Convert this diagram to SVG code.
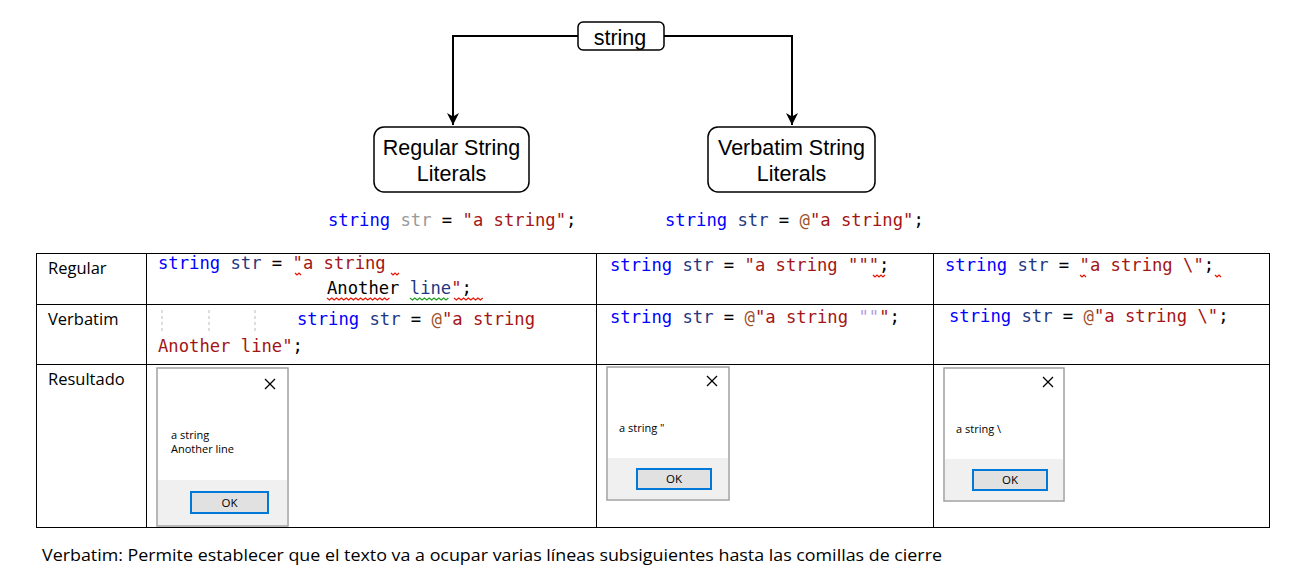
<svg xmlns="http://www.w3.org/2000/svg" width="1300" height="586" viewBox="0 0 1300 586">
<defs>
<marker id="arr" viewBox="0 0 14 14" refX="13" refY="7" markerWidth="14" markerHeight="14" markerUnits="userSpaceOnUse" orient="auto">
<path d="M1,1 L13,7 L1,13 L4.5,7 Z" fill="#000"/>
</marker>
<style>
.node{fill:#fff;stroke:#000;stroke-width:1.5}
.nt{font-family:"Liberation Sans",Arial,sans-serif;font-size:21.5px;fill:#000;text-anchor:middle}
.conn{fill:none;stroke:#000;stroke-width:2}
.code{font-family:"DejaVu Sans Mono","Liberation Mono",monospace;font-size:17.2px;white-space:pre}
.kw{fill:#0000ff}.id{fill:#1f377f}.op{fill:#000}.st{fill:#a31515}.at{fill:#a0522d}.esc{fill:#b4a0e0}.gr{fill:#999}
.lbl{font-family:"Open Sans","Liberation Sans",sans-serif;font-size:16.5px;fill:#000}
.grid{stroke:#000;stroke-width:1;fill:none}
.dlg{fill:#fff;stroke:#a0a0a0;stroke-width:1.5}
.dlgb{fill:#f0f0f0}
.dt{font-family:"Open Sans","Liberation Sans",sans-serif;font-size:11px;fill:#000}
.ok{fill:#e1e1e1;stroke:#0078d7;stroke-width:2}
.okt{font-family:"Open Sans","Liberation Sans",sans-serif;font-size:11.5px;fill:#000;text-anchor:middle}
.x{stroke:#000;stroke-width:1.2}
.wr{stroke:#e51400;stroke-width:1.2;fill:none}
.wg{stroke:#1e9e1e;stroke-width:1.2;fill:none}
</style>
</defs>

<g id="connectors">
<path class="conn" d="M578,36 H453 V125" marker-end="url(#arr)"/>
<path class="conn" d="M664,36 H792 V125" marker-end="url(#arr)"/>
</g>

<g id="node-string">
<rect class="node" x="578" y="22" width="86" height="28" rx="5"/>
<text class="nt" x="620" y="45" font-size="24">string</text>
</g>
<g id="node-regular">
<rect class="node" x="374" y="127" width="155" height="65" rx="10"/>
<text class="nt" x="451.5" y="155">Regular String</text>
<text class="nt" x="451.5" y="181">Literals</text>
</g>
<g id="node-verbatim">
<rect class="node" x="708" y="127" width="167" height="65" rx="10"/>
<text class="nt" x="791.5" y="155">Verbatim String</text>
<text class="nt" x="791.5" y="181">Literals</text>
</g>

<g id="code-examples">
<text class="code" x="328" y="226"><tspan class="kw">string</tspan> <tspan class="gr">str</tspan> <tspan class="op">=</tspan> <tspan class="st">"a string"</tspan><tspan class="op">;</tspan></text>
<text class="code" x="665" y="226"><tspan class="kw">string</tspan> <tspan class="id">str</tspan> <tspan class="op">=</tspan> <tspan class="at">@</tspan><tspan class="st">"a string"</tspan><tspan class="op">;</tspan></text>
</g>

<g id="table">
<rect class="grid" x="36.5" y="253.5" width="1233" height="274"/>
<line class="grid" x1="36" y1="304.5" x2="1270" y2="304.5"/>
<line class="grid" x1="36" y1="364.5" x2="1270" y2="364.5"/>
<line class="grid" x1="146.5" y1="253" x2="146.5" y2="527"/>
<line class="grid" x1="596.5" y1="253" x2="596.5" y2="527"/>
<line class="grid" x1="933.5" y1="253" x2="933.5" y2="527"/>
<text class="lbl" x="48" y="274">Regular</text>
<text class="lbl" x="48" y="325">Verbatim</text>
<text class="lbl" x="48" y="385">Resultado</text>
</g>

<g id="cell-regular-1">
<text class="code" x="158" y="269"><tspan class="kw">string</tspan> <tspan class="id">str</tspan> <tspan class="op">=</tspan> <tspan class="st">"a string</tspan></text>
<text class="code" x="327" y="294"><tspan class="op">Another</tspan> <tspan class="id">line</tspan><tspan class="st">"</tspan><tspan class="op">;</tspan></text>
<path class="wr" d="M295,273 l2,2 l2,-2 l2,2"/>
<path class="wr" d="M391,273 l2,2 l2,-2 l2,2 l2,-2"/>
<path class="wr" d="M327,298 l2.4,2 l2.4,-2 l2.4,2 l2.4,-2 l2.4,2 l2.4,-2 l2.4,2 l2.4,-2 l2.4,2 l2.4,-2 l2.4,2 l2.4,-2 l2.4,2 l2.4,-2 l2.4,2 l2.4,-2 l2.4,2 l2.4,-2 l2.4,2 l2.4,-2 l2.4,2 l2.4,-2 l2.4,2 l2.4,-2 l2.4,2 l2.4,-2"/>
<path class="wg" d="M410,298 l2.4,2 l2.4,-2 l2.4,2 l2.4,-2 l2.4,2 l2.4,-2 l2.4,2 l2.4,-2 l2.4,2 l2.4,-2 l2.4,2 l2.4,-2 l2.4,2 l2.4,-2 l2.4,2 l2.4,-2"/>
<path class="wr" d="M454,298 l2.4,2 l2.4,-2 l2.4,2 l2.4,-2 l2.4,2 l2.4,-2 l2.4,2 l2.4,-2 l2.4,2 l2.4,-2 l2.4,2 l2.4,-2"/>
</g>
<g id="cell-regular-2">
<text class="code" x="610" y="271"><tspan class="kw">string</tspan> <tspan class="id">str</tspan> <tspan class="op">=</tspan> <tspan class="st">"a string """</tspan><tspan class="op">;</tspan></text>
<path class="wr" d="M873,275 l2,2 l2,-2 l2,2 l2,-2 l2,2 l2,-2"/>
</g>
<g id="cell-regular-3">
<text class="code" x="945" y="271"><tspan class="kw">string</tspan> <tspan class="id">str</tspan> <tspan class="op">=</tspan> <tspan class="st">"a string \"</tspan><tspan class="op">;</tspan></text>
<path class="wr" d="M1080,275 l2,2 l2,-2 l2,2"/>
<path class="wr" d="M1215,275 l2,2 l2,-2 l2,2"/>
</g>

<g id="cell-verbatim-1">
<line x1="162" y1="310" x2="162" y2="332" stroke="#bbb" stroke-dasharray="3,3"/>
<line x1="209" y1="310" x2="209" y2="332" stroke="#bbb" stroke-dasharray="3,3"/>
<line x1="255" y1="310" x2="255" y2="332" stroke="#bbb" stroke-dasharray="3,3"/>
<text class="code" x="297" y="325"><tspan class="kw">string</tspan> <tspan class="id">str</tspan> <tspan class="op">=</tspan> <tspan class="at">@</tspan><tspan class="st">"a string</tspan></text>
<text class="code" x="158" y="352"><tspan class="st">Another line"</tspan><tspan class="op">;</tspan></text>
</g>
<g id="cell-verbatim-2">
<text class="code" x="610" y="323"><tspan class="kw">string</tspan> <tspan class="id">str</tspan> <tspan class="op">=</tspan> <tspan class="at">@</tspan><tspan class="st">"a string </tspan><tspan class="esc">""</tspan><tspan class="st">"</tspan><tspan class="op">;</tspan></text>
</g>
<g id="cell-verbatim-3">
<text class="code" x="949" y="322"><tspan class="kw">string</tspan> <tspan class="id">str</tspan> <tspan class="op">=</tspan> <tspan class="at">@</tspan><tspan class="st">"a string \"</tspan><tspan class="op">;</tspan></text>
</g>

<g id="dialog-1">
<rect class="dlg" x="157" y="368" width="131" height="158"/>
<rect class="dlgb" x="158" y="480" width="129" height="45"/>
<line class="x" x1="265" y1="379" x2="275" y2="389"/>
<line class="x" x1="275" y1="379" x2="265" y2="389"/>
<text class="dt" x="171" y="439">a string</text>
<text class="dt" x="171" y="453">Another line</text>
<rect class="ok" x="191" y="492" width="77" height="21"/>
<text class="okt" x="229.5" y="507">OK</text>
</g>
<g id="dialog-2">
<rect class="dlg" x="607" y="367" width="122" height="133"/>
<rect class="dlgb" x="608" y="458" width="120" height="41"/>
<line class="x" x1="707" y1="376" x2="717" y2="386"/>
<line class="x" x1="717" y1="376" x2="707" y2="386"/>
<text class="dt" x="619" y="432">a string "</text>
<rect class="ok" x="637" y="469" width="74" height="20"/>
<text class="okt" x="674" y="483">OK</text>
</g>
<g id="dialog-3">
<rect class="dlg" x="944" y="368" width="120" height="133"/>
<rect class="dlgb" x="945" y="459" width="118" height="41"/>
<line class="x" x1="1043" y1="377" x2="1053" y2="387"/>
<line class="x" x1="1053" y1="377" x2="1043" y2="387"/>
<text class="dt" x="956" y="433">a string \</text>
<rect class="ok" x="973" y="470" width="74" height="20"/>
<text class="okt" x="1010" y="484">OK</text>
</g>

<text class="lbl" x="42" y="561" font-size="16" textLength="900" lengthAdjust="spacingAndGlyphs">Verbatim: Permite establecer que el texto va a ocupar varias líneas subsiguientes hasta las comillas de cierre</text>
</svg>
